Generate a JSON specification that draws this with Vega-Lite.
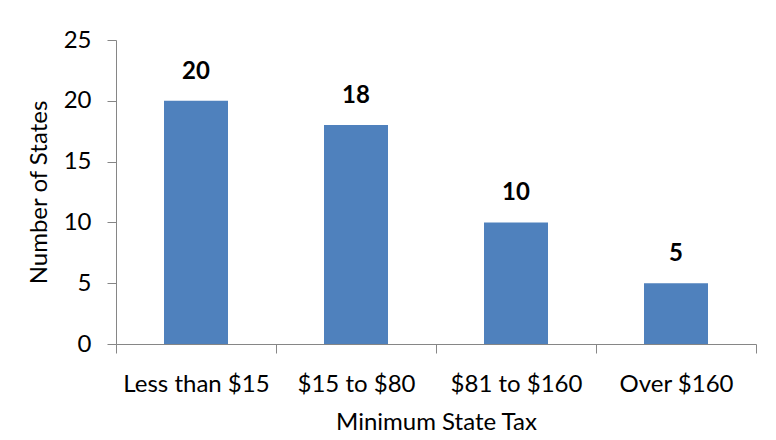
{
  "$schema": "https://vega.github.io/schema/vega-lite/v6.json",
  "width": 640,
  "height": 304,
  "autosize": {"type": "none"},
  "padding": {"left": 116, "top": 40, "right": 20, "bottom": 96},
  "background": "white",
  "config": {
    "view": {"stroke": null},
    "font": "Lato",
    "axis": {
      "labelFont": "Lato",
      "titleFont": "Lato",
      "labelFontSize": 24,
      "titleFontSize": 24,
      "titleFontWeight": "normal",
      "labelColor": "black",
      "titleColor": "black",
      "domainColor": "#868686",
      "tickColor": "#868686",
      "tickSize": 9,
      "grid": false
    }
  },
  "data": {
    "values": [
      {"category": "Less than $15", "states": 20},
      {"category": "$15 to $80", "states": 18},
      {"category": "$81 to $160", "states": 10},
      {"category": "Over $160", "states": 5}
    ]
  },
  "encoding": {
    "x": {
      "field": "category",
      "type": "nominal",
      "sort": null,
      "scale": {"paddingInner": 0, "paddingOuter": 0},
      "axis": {
        "title": "Minimum State Tax",
        "labelAngle": 0,
        "tickBand": "extent",
        "labelPadding": 19,
        "titlePadding": 14
      }
    },
    "y": {
      "field": "states",
      "type": "quantitative",
      "scale": {"domain": [0, 25]},
      "axis": {
        "title": "Number of States",
        "values": [0, 5, 10, 15, 20, 25],
        "labelPadding": 16,
        "titlePadding": 12
      }
    }
  },
  "layer": [
    {"mark": {"type": "bar", "color": "#4F81BD", "width": {"band": 0.4}}},
    {
      "mark": {"type": "text", "baseline": "bottom", "dy": -17, "fontSize": 24, "fontWeight": "bold", "font": "Lato", "color": "black"},
      "encoding": {"text": {"field": "states", "type": "quantitative"}}
    }
  ]
}
